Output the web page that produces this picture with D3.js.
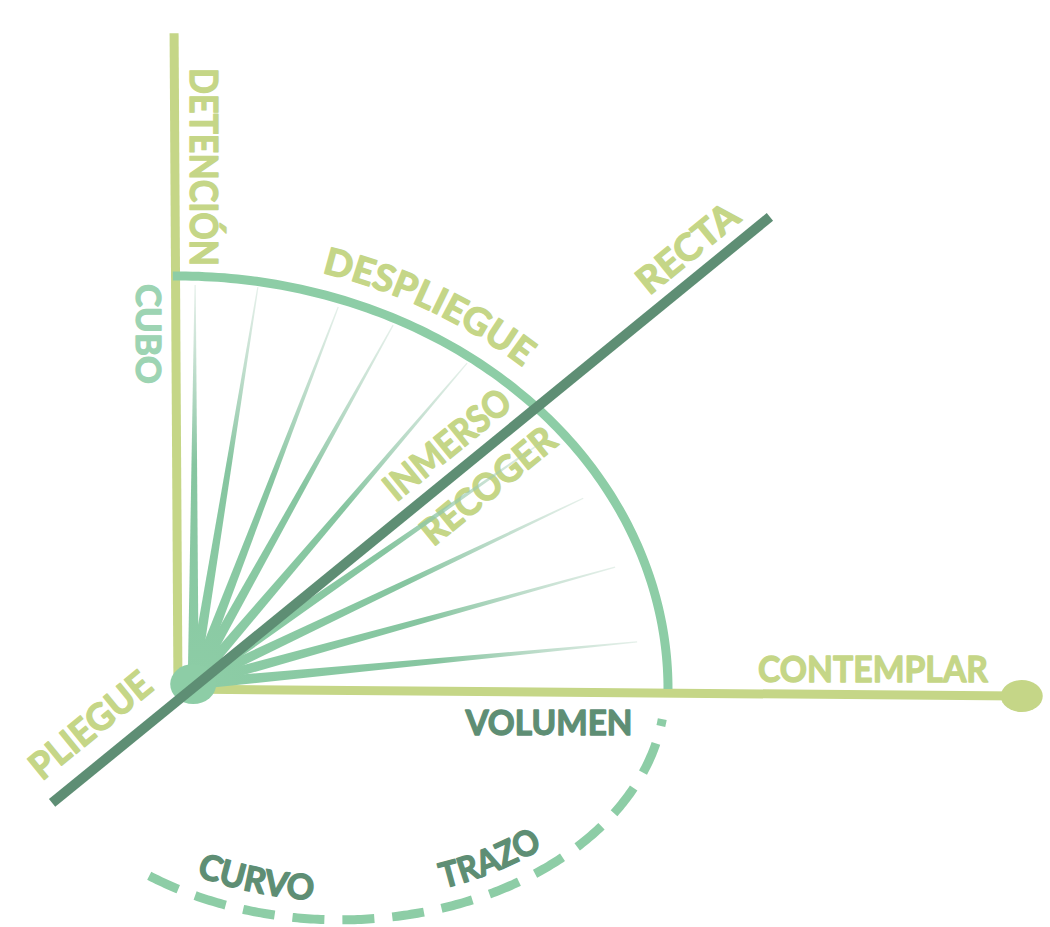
<!DOCTYPE html>
<html><head><meta charset="utf-8">
<script src="https://cdn.jsdelivr.net/npm/d3@7"></script>
<style>
html,body{margin:0;padding:0;background:#fff;}
svg{display:block;}
text{font-family:Lato,'Open Sans',sans-serif;font-weight:700;}
</style>
</head><body>
<svg id="chart" width="1050" height="927"></svg>
<script>
// ---------- data (logical units: quarter-arc radius = 100) ----------
const rayEndX = [3.5, 16.3, 32.7, 43.9, 59.0, 74.9, 82.7, 89.2, 93.7];
const rayEndY = [97.8, 97.3, 92.5, 88.1, 78.9, 60.3, 46.2, 29.5, 11.4];
const fanCenter = [3.1, 1.2];
const arcRadius = 100;
const axisVerticalEnd = [-0.8, 158.8];
const axisHorizontalEnd = [172.2, -1.7];
const rectaStart = [-25.7, -27.6];
const rectaEnd = [120.8, 114.3];
const traceCenter = [33.1, 0];
const traceRadii = [66.3, 55.9];
const traceAngles = [-126, -7.5];

const rectaLabels = ["RECTA", "INMERSO", "RECOGER", "PLIEGUE"];
const rectaLabelAlong = [0.91, 0.575, 0.581, 0.085];
const arcLabel = "DESPLIEGUE";
const arcLabelAngle = 59;
const traceLabels = ["CURVO", "TRAZO"];
const traceLabelAngles = [-108, -57];
const verticalLabels = ["DETENCIÓN", "CUBO"];
const horizontalLabels = ["CONTEMPLAR", "VOLUMEN"];

// ---------- styles ----------
const C_YEL = "#c5d687";
const C_MINT = "#8dcda6";
const C_DARK = "#5e8e74";
const C_CUBO = "#9dd4b3";
const BOLDEN = 1.3;

const svg = d3.select("#chart");
const x = d3.scaleLinear().domain([0, 100]).range([178, 668]);
const y = d3.scaleLinear().domain([0, 100]).range([689, 276]);
const rad = d => d * Math.PI / 180;
const line = d3.line();
const defs = svg.append("defs");

function ellipsePts(cx, cy, rx, ry, a0, a1, n = 120) {
  return d3.range(n + 1).map(i => {
    const a = rad(a0 + (a1 - a0) * i / n);
    return [x(cx + rx * Math.cos(a)), y(cy + ry * Math.sin(a))];
  });
}
function styleText(sel, color) {
  return sel.attr("fill", color).attr("stroke", color).attr("stroke-width", BOLDEN)
    .attr("stroke-linejoin", "round");
}

// axes
svg.append("line").attr("x1", x(0)).attr("y1", y(0) + 4)
  .attr("x2", x(axisVerticalEnd[0])).attr("y2", y(axisVerticalEnd[1]))
  .attr("stroke", C_YEL).attr("stroke-width", 9);
svg.append("line").attr("x1", x(0)).attr("y1", y(0))
  .attr("x2", x(axisHorizontalEnd[0])).attr("y2", y(axisHorizontalEnd[1]))
  .attr("stroke", C_YEL).attr("stroke-width", 9);
svg.append("ellipse").attr("cx", x(axisHorizontalEnd[0])).attr("cy", y(axisHorizontalEnd[1]))
  .attr("rx", 21).attr("ry", 16).attr("fill", C_YEL);

// RECTA geometry
const A = [x(rectaStart[0]), y(rectaStart[1])];
const B = [x(rectaEnd[0]), y(rectaEnd[1])];
const L = Math.hypot(B[0] - A[0], B[1] - A[1]);
const u = [(B[0] - A[0]) / L, (B[1] - A[1]) / L];
const nrm = [u[1], -u[0]]; // upper-left normal
const angDeg = Math.atan2(u[1], u[0]) * 180 / Math.PI;

const rectaPerp = [15, 15, -43, 23];
const rectaLen = [120, 152, 163, 146];
function rectaLabel(i) {
  const p = [A[0] + u[0] * L * rectaLabelAlong[i] + nrm[0] * rectaPerp[i],
             A[1] + u[1] * L * rectaLabelAlong[i] + nrm[1] * rectaPerp[i]];
  styleText(svg.append("text").text(rectaLabels[i])
    .attr("transform", `translate(${p[0]},${p[1]}) rotate(${angDeg})`)
    .attr("text-anchor", "middle").attr("font-size", 37)
    .attr("textLength", rectaLen[i]).attr("lengthAdjust", "spacingAndGlyphs"), C_YEL);
}
rectaLabel(2);

// fan rays (tapered)
const F = [x(fanCenter[0]), y(fanCenter[1])];
rayEndX.forEach((ex, i) => {
  const E = [x(ex), y(rayEndY[i])];
  const len = Math.hypot(E[0] - F[0], E[1] - F[1]);
  const d = [(E[0] - F[0]) / len, (E[1] - F[1]) / len];
  const n = [-d[1], d[0]];
  const w0 = 5.5, w1 = 0.6;
  const g = defs.append("linearGradient").attr("id", "rg" + i)
    .attr("gradientUnits", "userSpaceOnUse")
    .attr("x1", F[0]).attr("y1", F[1]).attr("x2", E[0]).attr("y2", E[1]);
  g.append("stop").attr("offset", 0).attr("stop-color", C_MINT);
  g.append("stop").attr("offset", 0.55).attr("stop-color", "#86c5a0");
  g.append("stop").attr("offset", 1).attr("stop-color", "#a9cdb9").attr("stop-opacity", 0.3);
  const pts = [
    [F[0] + n[0] * w0, F[1] + n[1] * w0],
    [E[0] + n[0] * w1, E[1] + n[1] * w1],
    [E[0] - n[0] * w1, E[1] - n[1] * w1],
    [F[0] - n[0] * w0, F[1] - n[1] * w0]
  ];
  svg.append("path").attr("d", line(pts) + "Z").attr("fill", `url(#rg${i})`);
});

// center blob
svg.append("ellipse").attr("cx", F[0]).attr("cy", F[1]).attr("rx", 23).attr("ry", 20).attr("fill", C_MINT);

// main arc
svg.append("path").attr("d", line(ellipsePts(0, 0, arcRadius, arcRadius, 90.6, 0)))
  .attr("fill", "none").attr("stroke", C_MINT).attr("stroke-width", 9);

// dashed trace arc
svg.append("path").attr("d", line(ellipsePts(traceCenter[0], traceCenter[1], traceRadii[0], traceRadii[1], traceAngles[0], traceAngles[1], 200)))
  .attr("fill", "none").attr("stroke", C_MINT).attr("stroke-width", 9)
  .attr("stroke-dasharray", "32 18");

// RECTA line
svg.append("line").attr("x1", A[0]).attr("y1", A[1]).attr("x2", B[0]).attr("y2", B[1])
  .attr("stroke", C_DARK).attr("stroke-width", 10);

// other RECTA labels
rectaLabel(0); rectaLabel(1); rectaLabel(3);

// DESPLIEGUE along arc
defs.append("path").attr("id", "despPath")
  .attr("d", line(ellipsePts(0, 0, 105, 105, arcLabelAngle + 45, arcLabelAngle - 45)));
styleText(svg.append("text").attr("font-size", 37), C_YEL)
  .append("textPath").attr("href", "#despPath").attr("startOffset", "50%")
  .attr("text-anchor", "middle").attr("textLength", 224).attr("lengthAdjust", "spacingAndGlyphs")
  .text(arcLabel);

// CURVO / TRAZO along dashed arc
const traceLens = [120, 108];
traceLabels.forEach((t, i) => {
  const a = traceLabelAngles[i];
  defs.append("path").attr("id", "tp" + i)
    .attr("d", line(ellipsePts(traceCenter[0], traceCenter[1], traceRadii[0] - 3.8, traceRadii[1] - 4.6, a - 35, a + 35)));
  styleText(svg.append("text").attr("font-size", 35), C_DARK)
    .append("textPath").attr("href", "#tp" + i).attr("startOffset", "50%")
    .attr("text-anchor", "middle").attr("textLength", traceLens[i]).attr("lengthAdjust", "spacingAndGlyphs")
    .text(t);
});

// vertical labels
styleText(svg.append("text").text(verticalLabels[0])
  .attr("transform", `translate(190,167) rotate(90)`)
  .attr("text-anchor", "middle").attr("font-size", 38)
  .attr("textLength", 198).attr("lengthAdjust", "spacingAndGlyphs"), C_YEL);
styleText(svg.append("text").text(verticalLabels[1])
  .attr("transform", `translate(136,334) rotate(90)`)
  .attr("text-anchor", "middle").attr("font-size", 35)
  .attr("textLength", 100).attr("lengthAdjust", "spacingAndGlyphs"), C_CUBO);

// horizontal labels
styleText(svg.append("text").text(horizontalLabels[0])
  .attr("x", 873).attr("y", 682).attr("text-anchor", "middle").attr("font-size", 37)
  .attr("textLength", 230).attr("lengthAdjust", "spacingAndGlyphs"), C_YEL);
styleText(svg.append("text").text(horizontalLabels[1])
  .attr("x", 549).attr("y", 735).attr("text-anchor", "middle").attr("font-size", 35)
  .attr("textLength", 167).attr("lengthAdjust", "spacingAndGlyphs"), C_DARK);
</script>
</body></html>
